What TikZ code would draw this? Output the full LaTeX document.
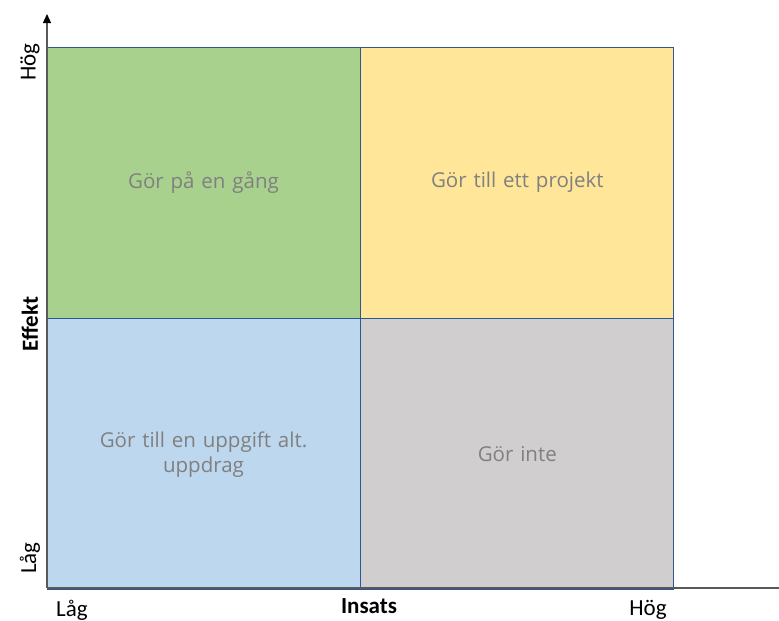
\documentclass[tikz,border=0pt]{standalone}
\usepackage{fontspec}
\setmainfont{Carlito}
\newfontfamily\fieldfont{Open Sans}
\usepackage{tikz}
\usetikzlibrary{arrows,arrows.meta,positioning}

\definecolor{qgreen}{HTML}{A9D18E}
\definecolor{qyellow}{HTML}{FFE699}
\definecolor{qblue}{HTML}{BDD7EE}
\definecolor{qgrey}{HTML}{D0CECE}
\definecolor{qedge}{HTML}{2F5597}
\definecolor{qtext}{HTML}{808080}
\definecolor{axis}{HTML}{595959}

\begin{document}
\begin{tikzpicture}[%
x=1pt, y=-1pt,
>={Triangle[length=9pt,width=8pt,color=black]},
quad/.style={draw=qedge, line width=0.8pt, minimum width=313pt, minimum height=271pt,
  inner sep=0pt, text=qtext, font=\fieldfont\fontsize{20.5}{25}\selectfont, align=center, text width=280pt},
lbl/.style={font=\fontsize{23}{25}\selectfont, inner sep=0pt},
title/.style={font=\fontsize{23}{25}\selectfont\bfseries, inner sep=0pt}
]
\useasboundingbox (0,0) rectangle (779,621);

% the four fields
\node[quad, fill=qgreen] (doit) at (203.5,182.5) {Gör på en gång};
\node[quad, fill=qyellow] (proj) [right=0pt of doit] {Gör till ett projekt};
\node[quad, fill=qblue] (task) [below=0pt of doit] {Gör till en uppgift alt.\\uppdrag};
\node[quad, fill=qgrey] (skip) [right=0pt of task] {Gör inte};

% axes
\coordinate (origin) at (47,588);
\coordinate (ytop) at (47,14);
\coordinate (xend) at (779,588);
\draw[->, axis, line width=1.3pt] (origin) -- (ytop);
\draw[axis, line width=1.3pt] (origin) -- (xend);

% labels on the effect axis
\node[lbl, rotate=90] (yhigh) at (30,62) {Hög};
\node[title, rotate=90] (ytitle) at (30,324) {Effekt};
\node[lbl, rotate=90] (ylow) at (30,558) {Låg};

% labels on the cost axis
\node[lbl] (xlow) at (72,610) {Låg};
\node[title] (xtitle) at (369,606) {Insats};
\node[lbl] (xhigh) at (648,610) {Hög};
\end{tikzpicture}
\end{document}
